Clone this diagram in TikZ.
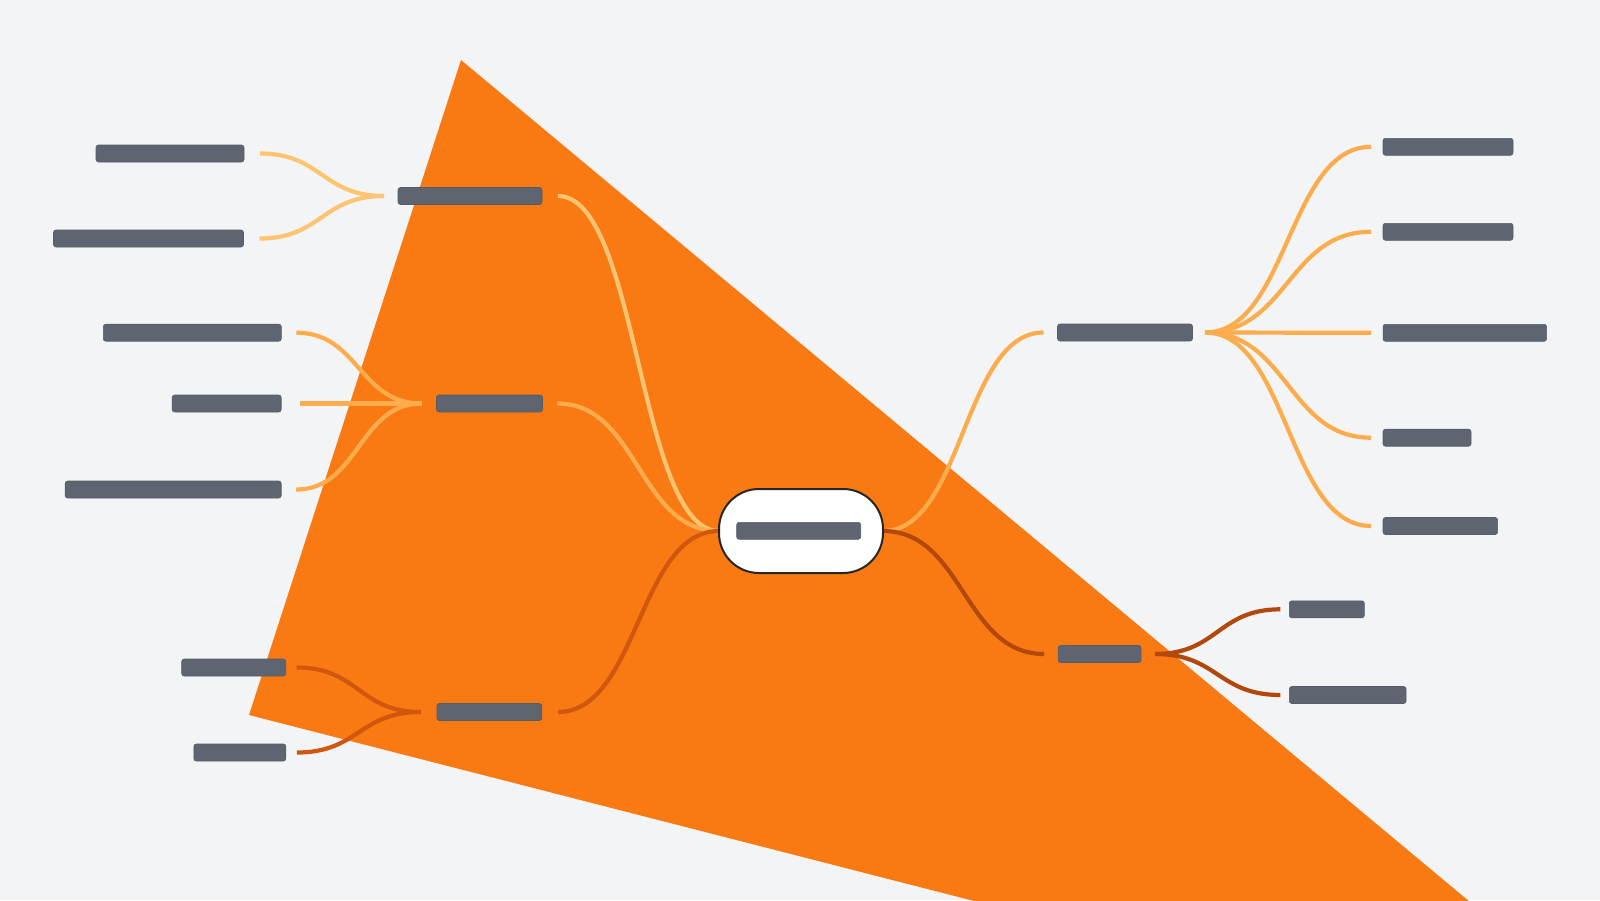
\documentclass[tikz,border=0pt]{standalone}
\usetikzlibrary{calc}
\definecolor{bg}{HTML}{F2F4F6}
\definecolor{tri}{HTML}{F97A12}
\definecolor{barfill}{HTML}{5E6570}
\definecolor{barline}{HTML}{565D67}
\definecolor{cA}{HTML}{FFC472}
\definecolor{cB}{HTML}{FFAC4C}
\definecolor{cC}{HTML}{D2560D}
\definecolor{cD}{HTML}{FCAC4C}
\definecolor{cE}{HTML}{B3480C}
\newcommand\mmlink[3]{%
  \coordinate (lkA) at (#2);
  \coordinate (lkB) at (#3);
  \coordinate (lkM) at ($(lkA)!0.5!(lkB)$);
  \draw[lnk,#1] (lkA) .. controls (lkM |- lkA) and (lkM |- lkB) .. (lkB);}
\begin{document}
\begin{tikzpicture}[x=1pt,y=-1pt,
  bar/.style={draw=barline, fill=barfill, line width=0.6pt, rounded corners=2.5pt,
    minimum height=17pt, inner sep=0pt, outer sep=0pt},
  lnk/.style={line width=4.2pt, line cap=butt},
  hubnode/.style={draw=black!85, fill=white, line width=2pt, rounded corners=40pt,
    minimum width=164pt, minimum height=84pt, inner sep=0pt, outer sep=0pt}]
\useasboundingbox (0,0) rectangle (1600,900);
\fill[bg] (0,0) rectangle (1600,900);
\fill[tri] (461,60) -- (249,715) -- (978,902) -- (1470,902) -- cycle;

% nodes
\node[bar, minimum width=148pt] (L1a) at (170,153.5) {};
\node[bar, minimum width=190pt] (L1b) at (148.5,238.5) {};
\node[bar, minimum width=144pt] (HL1) at (470,196) {};
\node[bar, minimum width=178pt] (L2a) at (192.3,332.7) {};
\node[bar, minimum width=109pt] (L2b) at (226.7,403.5) {};
\node[bar, minimum width=216pt] (L2c) at (173.2,489.5) {};
\node[bar, minimum width=106pt] (HL2) at (489.5,403.5) {};
\node[bar, minimum width=104pt] (L3a) at (233.7,667.5) {};
\node[bar, minimum width=92pt] (L3b) at (239.8,752.5) {};
\node[bar, minimum width=105pt] (HL3) at (489.3,712) {};
\node[bar, minimum width=135pt] (H1) at (1125,332.5) {};
\node[bar, minimum width=130pt] (R1) at (1448,146.8) {};
\node[bar, minimum width=130pt] (R2) at (1448,231.8) {};
\node[bar, minimum width=163.5pt] (R3) at (1464.8,332.8) {};
\node[bar, minimum width=88pt] (R4) at (1427,437.7) {};
\node[bar, minimum width=114.6pt] (R5) at (1440.3,526) {};
\node[bar, minimum width=83pt] (HR2) at (1099.6,654) {};
\node[bar, minimum width=75pt] (RB1) at (1326.8,609.3) {};
\node[bar, minimum width=116.7pt] (RB2) at (1347.7,695) {};

% connector end points
\coordinate (L1aE) at ($(L1a.east)+(16,0)$);
\coordinate (L1bE) at ($(L1b.east)+(16,0)$);
\coordinate (HL1W) at ($(HL1.west)+(-14,0)$);
\coordinate (HL1E) at ($(HL1.east)+(16,0)$);
\coordinate (L2aE) at ($(L2a.east)+(15,0)$);
\coordinate (L2bE) at ($(L2b.east)+(19,0)$);
\coordinate (L2cE) at ($(L2c.east)+(15,0)$);
\coordinate (HL2W) at ($(HL2.west)+(-15,0)$);
\coordinate (HL2E) at ($(HL2.east)+(15,0)$);
\coordinate (L3aE) at ($(L3a.east)+(11,0)$);
\coordinate (L3bE) at ($(L3b.east)+(11,0)$);
\coordinate (HL3W) at ($(HL3.west)+(-16,0)$);
\coordinate (HL3E) at ($(HL3.east)+(16,0)$);
\coordinate (H1W) at ($(H1.west)+(-14,0)$);
\coordinate (H1E) at ($(H1.east)+(12.5,0)$);
\coordinate (R1W) at ($(R1.west)+(-12,0)$);
\coordinate (R2W) at ($(R2.west)+(-12,0)$);
\coordinate (R3W) at (R3.west -| R2W);
\coordinate (R4W) at ($(R4.west)+(-12,0)$);
\coordinate (R5W) at ($(R5.west)+(-12,0)$);
\coordinate (HR2W) at ($(HR2.west)+(-14,0)$);
\coordinate (HR2E) at ($(HR2.east)+(14,0)$);
\coordinate (RB1W) at ($(RB1.west)+(-9,0)$);
\coordinate (RB2W) at ($(RB2.west)+(-9,0)$);
\coordinate (CW) at (719,531);
\coordinate (CE) at (883,531);

% connectors
\mmlink{cA}{HL1W}{L1aE}
\mmlink{cA}{HL1W}{L1bE}
\mmlink{cB}{HL2W}{L2aE}
\mmlink{cB}{HL2W}{L2bE}
\mmlink{cB}{HL2W}{L2cE}
\mmlink{cC}{HL3W}{L3aE}
\mmlink{cC}{HL3W}{L3bE}
\mmlink{cA}{CW}{HL1E}
\mmlink{cB}{CW}{HL2E}
\mmlink{cC}{CW}{HL3E}
\mmlink{cD}{CE}{H1W}
\mmlink{cE}{CE}{HR2W}
\mmlink{cD}{H1E}{R1W}
\mmlink{cD}{H1E}{R2W}
\mmlink{cD}{H1E}{R3W}
\mmlink{cD}{H1E}{R4W}
\mmlink{cD}{H1E}{R5W}
\mmlink{cE}{HR2E}{RB1W}
\mmlink{cE}{HR2E}{RB2W}

% center
\node[hubnode] (C) at (801,531) {};
\node[bar, minimum width=124pt] (Cbar) at (798.7,530.8) {};
\end{tikzpicture}
\end{document}
